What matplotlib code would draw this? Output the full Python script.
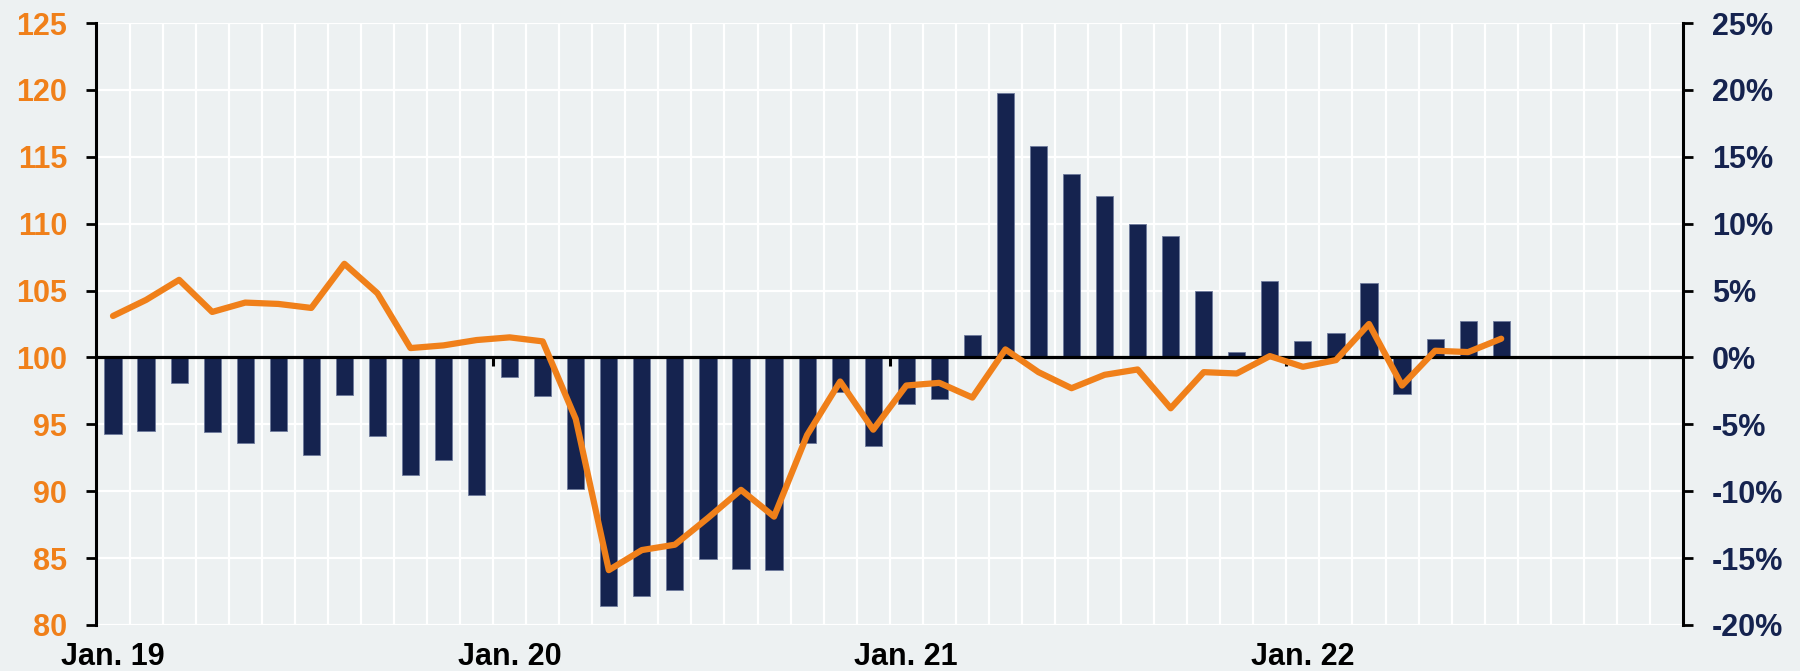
import numpy as np
import matplotlib
matplotlib.use("Agg")
import matplotlib.pyplot as plt

plt.rcParams['font.family'] = ['Liberation Sans', 'DejaVu Sans']
plt.rcParams['font.weight'] = 'bold'

# ---- data ----
months = ["Jan. 19", "Feb. 19", "Mar. 19", "Apr. 19", "May 19", "Jun. 19", "Jul. 19", "Aug. 19",
          "Sep. 19", "Oct. 19", "Nov. 19", "Dec. 19",
          "Jan. 20", "Feb. 20", "Mar. 20", "Apr. 20", "May 20", "Jun. 20", "Jul. 20", "Aug. 20",
          "Sep. 20", "Oct. 20", "Nov. 20", "Dec. 20",
          "Jan. 21", "Feb. 21", "Mar. 21", "Apr. 21", "May 21", "Jun. 21", "Jul. 21", "Aug. 21",
          "Sep. 21", "Oct. 21", "Nov. 21", "Dec. 21",
          "Jan. 22", "Feb. 22", "Mar. 22", "Apr. 22", "May 22", "Jun. 22", "Jul. 22", "Aug. 22",
          "Sep. 22", "Oct. 22", "Nov. 22", "Dec. 22"]

# year-over-year change (%), bars, right axis
yoy_change = [-5.7, -5.5, -1.9, -5.6, -6.4, -5.5, -7.3, -2.8, -5.9, -8.8, -7.7, -10.3,
              -1.5, -2.9, -9.8, -18.6, -17.8, -17.4, -15.1, -15.8, -15.9, -6.4, -2.6, -6.6,
              -3.5, -3.1, 1.7, 19.8, 15.8, 13.7, 12.1, 10.0, 9.1, 5.0, 0.4, 5.7,
              1.2, 1.8, 5.6, -2.7, 1.4, 2.7, 2.7]

# index level, line, left axis
index_level = [103.1, 104.3, 105.8, 103.4, 104.1, 104.0, 103.7, 107.0, 104.8, 100.7, 100.9, 101.3,
               101.5, 101.2, 95.4, 84.1, 85.6, 86.0, 88.0, 90.1, 88.1, 94.2, 98.2, 94.6,
               97.9, 98.1, 97.0, 100.6, 98.9, 97.7, 98.7, 99.1, 96.2, 98.9, 98.8, 100.1,
               99.3, 99.8, 102.5, 97.9, 100.5, 100.4, 101.4]

x_tick_labels = ["Jan. 19", "Jan. 20", "Jan. 21", "Jan. 22"]
left_ticks = [80, 85, 90, 95, 100, 105, 110, 115, 120, 125]
right_ticks = [-20, -15, -10, -5, 0, 5, 10, 15, 20, 25]

# ---- style ----
BG = '#EDF1F2'
NAVY = '#15234F'
ORANGE = '#F0801A'

fig = plt.figure(figsize=(18, 6.71), dpi=100, facecolor=BG)
ax = fig.add_axes([0.0536, 0.0686, 0.9350 - 0.0536, 0.9657 - 0.0686])
ax.set_facecolor(BG)

n = len(months)
xpos = np.arange(n)
ax.bar(xpos[:len(yoy_change)], yoy_change, width=0.52, color=NAVY, zorder=3,
       edgecolor='#6d7a9c', linewidth=0.6)
ax.axhline(0, color='black', lw=2.3, zorder=4)

# small ticks at January boundaries on the zero line
jan_idx = [months.index(m) for m in x_tick_labels]
for j in jan_idx[1:]:
    ax.plot([j - 0.5, j - 0.5], [0, -0.65], color='black', lw=2.2, zorder=4,
            solid_capstyle='butt')

ax.set_xlim(-0.5, n - 0.5)
ax.set_ylim(right_ticks[0], right_ticks[-1])

ax.set_xticks(jan_idx)
ax.set_xticklabels(x_tick_labels)
ax.set_xticks(np.arange(-0.5, n, 1), minor=True)
ax.tick_params(axis='x', which='both', length=0, labelsize=22, labelcolor='black', pad=12)

ax.grid(axis='x', which='minor', color='white', lw=1.6, zorder=0)
ax.grid(axis='y', which='major', color='white', lw=1.6, zorder=0)
ax.grid(axis='x', which='major', visible=False)
ax.set_axisbelow(True)
for s in ax.spines.values():
    s.set_visible(False)

ax2 = ax.twinx()
ax2.plot(xpos[:len(index_level)], index_level, color=ORANGE, lw=4.5, zorder=5,
         solid_joinstyle='round', solid_capstyle='round')
ax2.set_ylim(left_ticks[0], left_ticks[-1])
ax2.set_yticks(left_ticks)
ax2.set_yticklabels([str(t) for t in left_ticks])
ax2.set_xlim(-0.5, n - 0.5)

# place axes sides after twinx
ax.yaxis.tick_right()
ax.yaxis.set_label_position('right')
ax2.yaxis.tick_left()
ax2.yaxis.set_label_position('left')

ax.set_yticks(right_ticks)
ax.set_yticklabels([f"{t}%" for t in right_ticks])
ax.tick_params(axis='y', which='major', direction='out', length=7, width=2,
               colors='black', labelcolor=NAVY, labelsize=22, pad=14,
               left=False, labelleft=False, right=True, labelright=True)
ax2.tick_params(axis='y', direction='out', length=7, width=2, colors='black',
                labelcolor=ORANGE, labelsize=22, pad=14,
                left=True, labelleft=True, right=False, labelright=False)

ax2.spines['top'].set_visible(False)
ax2.spines['bottom'].set_visible(False)
for side in ('left', 'right'):
    ax2.spines[side].set_visible(True)
    ax2.spines[side].set_color('black')
    ax2.spines[side].set_linewidth(2.2)

for lbl in ax.get_xticklabels() + ax.get_yticklabels() + ax2.get_yticklabels():
    lbl.set_fontweight('bold')

fig.savefig('out.png', dpi=100, facecolor=BG)
